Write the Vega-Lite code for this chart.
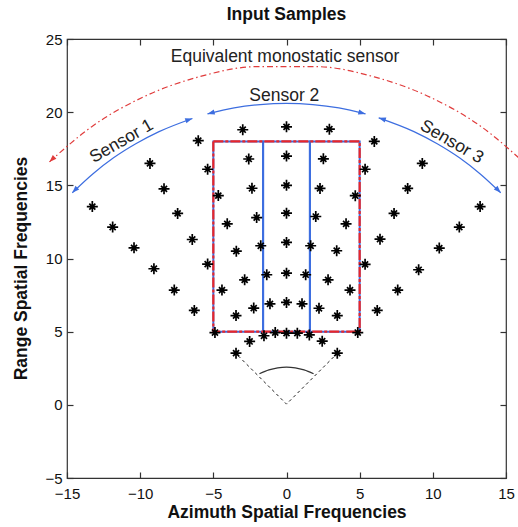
{
  "$schema": "https://vega.github.io/schema/vega-lite/v6.json",
  "width": 439,
  "height": 439,
  "autosize": "none",
  "padding": {"left": 67, "top": 39, "right": 12, "bottom": 49},
  "background": "white",
  "title": {"text": "Input Samples", "font": "Liberation Sans", "fontSize": 17.5, "fontWeight": "bold", "color": "#111", "baseline": "alphabetic", "offset": -5, "frame": "group", "anchor": "middle"},
  "config": {
    "view": {"stroke": "#333", "strokeWidth": 1.2},
    "axis": {"domain": false, "grid": false, "tickColor": "#333", "tickSize": -6, "tickWidth": 1.2, "labelFont": "Liberation Sans", "labelFontSize": 15, "labelColor": "#111", "titleFont": "Liberation Sans", "titleFontSize": 17.5, "titleFontWeight": "bold", "titleColor": "#111", "labelFlush": false, "labelOverlap": false, "labelBound": false}
  },
  "datasets": {
    "pts": [
      {"x": 0, "y": 4.9}, {"x": 0, "y": 7.0}, {"x": 0, "y": 9.0}, {"x": 0, "y": 11.1}, {"x": 0, "y": 13.1}, {"x": 0, "y": 15.0}, {"x": 0, "y": 17.0}, {"x": 0, "y": 19.0},
      {"x": 0.74, "y": 4.9}, {"x": 1.06, "y": 6.9}, {"x": 1.31, "y": 8.89}, {"x": 1.65, "y": 10.87}, {"x": 2.0, "y": 12.87}, {"x": 2.29, "y": 14.79}, {"x": 2.52, "y": 16.81}, {"x": 2.93, "y": 18.84},
      {"x": -0.77, "y": 4.94}, {"x": -1.13, "y": 6.9}, {"x": -1.35, "y": 8.89}, {"x": -1.76, "y": 10.87}, {"x": -2.04, "y": 12.8}, {"x": -2.36, "y": 14.8}, {"x": -2.58, "y": 16.8}, {"x": -2.99, "y": 18.8},
      {"x": 1.56, "y": 4.78}, {"x": 2.22, "y": 6.6}, {"x": 2.84, "y": 8.54}, {"x": 3.43, "y": 10.53}, {"x": 4.07, "y": 12.37}, {"x": 4.7, "y": 14.29}, {"x": 5.37, "y": 16.1}, {"x": 6.0, "y": 18.0},
      {"x": -1.54, "y": 4.72}, {"x": -2.24, "y": 6.61}, {"x": -2.86, "y": 8.54}, {"x": -3.43, "y": 10.5}, {"x": -4.05, "y": 12.37}, {"x": -4.66, "y": 14.3}, {"x": -5.39, "y": 16.1}, {"x": -6.03, "y": 18.05},
      {"x": 2.44, "y": 4.35}, {"x": 3.47, "y": 6.1}, {"x": 4.34, "y": 7.84}, {"x": 5.37, "y": 9.6}, {"x": 6.39, "y": 11.32}, {"x": 7.35, "y": 13.08}, {"x": 8.28, "y": 14.79}, {"x": 9.28, "y": 16.5},
      {"x": -2.52, "y": 4.33}, {"x": -3.45, "y": 6.1}, {"x": -4.41, "y": 7.84}, {"x": -5.39, "y": 9.62}, {"x": -6.44, "y": 11.3}, {"x": -7.44, "y": 13.08}, {"x": -8.37, "y": 14.76}, {"x": -9.33, "y": 16.5},
      {"x": 3.47, "y": 3.53}, {"x": 4.87, "y": 4.94}, {"x": 6.2, "y": 6.45}, {"x": 7.6, "y": 7.84}, {"x": 9.03, "y": 9.23}, {"x": 10.44, "y": 10.71}, {"x": 11.81, "y": 12.15}, {"x": 13.23, "y": 13.55},
      {"x": -3.45, "y": 3.53}, {"x": -4.89, "y": 4.94}, {"x": -6.3, "y": 6.45}, {"x": -7.67, "y": 7.84}, {"x": -9.06, "y": 9.3}, {"x": -10.42, "y": 10.73}, {"x": -11.88, "y": 12.15}, {"x": -13.27, "y": 13.55}
    ],
    "arcs": [
      {"arc": "s1", "x": -14.64, "y": 14.49}, {"arc": "s1", "x": -13.24, "y": 15.78}, {"arc": "s1", "x": -11.82, "y": 16.88}, {"arc": "s1", "x": -10.3, "y": 17.84}, {"arc": "s1", "x": -8.71, "y": 18.67}, {"arc": "s1", "x": -6.43, "y": 19.57},
      {"arc": "s2", "x": -5.4, "y": 19.88}, {"arc": "s2", "x": -3.58, "y": 20.29}, {"arc": "s2", "x": -1.8, "y": 20.52}, {"arc": "s2", "x": 0, "y": 20.6}, {"arc": "s2", "x": 1.8, "y": 20.52}, {"arc": "s2", "x": 3.58, "y": 20.29}, {"arc": "s2", "x": 5.4, "y": 19.88},
      {"arc": "s3", "x": 6.3, "y": 19.61}, {"arc": "s3", "x": 8.71, "y": 18.67}, {"arc": "s3", "x": 10.3, "y": 17.84}, {"arc": "s3", "x": 11.82, "y": 16.88}, {"arc": "s3", "x": 13.24, "y": 15.78}, {"arc": "s3", "x": 14.64, "y": 14.49}
    ],
    "mono": [
      {"x": -16.2, "y": 16.6}, {"x": -13.31, "y": 19.01}, {"x": -9.8, "y": 21.03}, {"x": -6.0, "y": 22.41}, {"x": -2.02, "y": 23.11}, {"x": 2.02, "y": 23.11}, {"x": 6.0, "y": 22.41}, {"x": 9.8, "y": 21.03}, {"x": 13.31, "y": 19.01}, {"x": 16.4, "y": 16.4}
    ],
    "heads": [
      {"kind": "sensor", "x": -14.64, "y": 14.49, "heading": -135.3},
      {"kind": "sensor", "x": -6.43, "y": 19.57, "heading": 71.8},
      {"kind": "sensor", "x": -5.4, "y": 19.88, "heading": -105.2},
      {"kind": "sensor", "x": 5.4, "y": 19.88, "heading": 105.2},
      {"kind": "sensor", "x": 6.3, "y": 19.61, "heading": -72.2},
      {"kind": "sensor", "x": 14.64, "y": 14.49, "heading": 135.3},
      {"kind": "monostatic", "x": -16.2, "y": 16.6, "heading": -134.3}
    ],
    "bowl": [
      {"x": -1.85, "y": 2.12}, {"x": -1.2, "y": 2.39}, {"x": -0.6, "y": 2.53}, {"x": 0, "y": 2.58}, {"x": 0.6, "y": 2.53}, {"x": 1.2, "y": 2.39}, {"x": 1.85, "y": 2.12}
    ],
    "cone": [
      {"x": -3.3, "y": 3.35}, {"x": 0, "y": 0.05}, {"x": 3.3, "y": 3.35}
    ],
    "cells": [
      {"x": -5, "x2": -1.6, "y": 5, "y2": 18},
      {"x": -1.6, "x2": 1.6, "y": 5, "y2": 18},
      {"x": 1.6, "x2": 5, "y": 5, "y2": 18}
    ],
    "frame": [
      {"x": -5, "x2": 5, "y": 5, "y2": 18}
    ]
  },
  "encoding": {
    "x": {"field": "x", "type": "quantitative", "scale": {"domain": [-15, 15], "nice": false, "zero": false}, "axis": null},
    "y": {"field": "y", "type": "quantitative", "scale": {"domain": [-5, 25], "nice": false, "zero": false}, "axis": null}
  },
  "layer": [
    {
      "data": {"name": "cells"},
      "mark": {"type": "rect", "fill": "transparent", "stroke": "#3d6ee0", "strokeWidth": 2},
      "encoding": {"x2": {"field": "x2"}, "y2": {"field": "y2"}}
    },
    {
      "data": {"name": "frame"},
      "mark": {"type": "rect", "fill": "transparent", "stroke": "#e8262a", "strokeWidth": 2.2, "strokeDash": [10, 2, 3, 2]},
      "encoding": {"x2": {"field": "x2"}, "y2": {"field": "y2"}}
    },
    {
      "data": {"name": "mono"},
      "mark": {"type": "line", "interpolate": "monotone", "stroke": "#e03c3c", "strokeWidth": 1.2, "strokeDash": [6, 3, 1.5, 3]},
      "encoding": {}
    },
    {
      "data": {"name": "arcs"},
      "mark": {"type": "line", "interpolate": "monotone", "stroke": "#3d6ee0", "strokeWidth": 1.2},
      "encoding": {"detail": {"field": "arc"}}
    },
    {
      "data": {"name": "heads"},
      "mark": {"type": "point", "shape": "M0,0L0.65,1.8L-0.65,1.8Z", "filled": true, "size": 64, "opacity": 1, "strokeWidth": 0},
      "encoding": {
        "angle": {"field": "heading", "type": "quantitative", "scale": null},
        "color": {"field": "kind", "type": "nominal", "scale": {"domain": ["sensor", "monostatic"], "range": ["#3d6ee0", "#e03c3c"]}, "legend": null}
      }
    },
    {
      "data": {"name": "bowl"},
      "mark": {"type": "line", "interpolate": "monotone", "stroke": "#333", "strokeWidth": 1.2},
      "encoding": {}
    },
    {
      "data": {"name": "cone"},
      "mark": {"type": "line", "stroke": "#222", "strokeWidth": 1, "strokeDash": [3, 3]},
      "encoding": {
        "x": {"field": "x", "type": "quantitative", "scale": {"domain": [-15, 15], "nice": false, "zero": false}, "axis": {"orient": "top", "labels": false, "title": null, "values": [-15, -10, -5, 0, 5, 10, 15]}},
        "y": {"field": "y", "type": "quantitative", "scale": {"domain": [-5, 25], "nice": false, "zero": false}, "axis": {"orient": "right", "labels": false, "title": null, "values": [-5, 0, 5, 10, 15, 20, 25]}}
      }
    },
    {
      "data": {"values": [
        {"label": "Equivalent monostatic sensor", "x": -0.1, "y": 23.4},
        {"label": "Sensor 2", "x": -0.15, "y": 20.73}
      ]},
      "mark": {"type": "text", "font": "Liberation Sans", "fontSize": 17.5, "color": "#222", "align": "center", "baseline": "alphabetic"},
      "encoding": {"text": {"field": "label"}}
    },
    {
      "data": {"values": [{"label": "Sensor 1", "x": -11.27, "y": 18.0}]},
      "mark": {"type": "text", "font": "Liberation Sans", "fontSize": 17.5, "color": "#222", "align": "center", "baseline": "middle", "angle": -30},
      "encoding": {"text": {"field": "label"}}
    },
    {
      "data": {"values": [{"label": "Sensor 3", "x": 11.29, "y": 17.96}]},
      "mark": {"type": "text", "font": "Liberation Sans", "fontSize": 17.5, "color": "#222", "align": "center", "baseline": "middle", "angle": 30},
      "encoding": {"text": {"field": "label"}}
    },
    {
      "data": {"name": "pts"},
      "mark": {"type": "point", "shape": "M-1,0L1,0M0,-1L0,1M-0.55,-0.55L0.55,0.55M-0.55,0.55L0.55,-0.55", "filled": false, "stroke": "#000", "strokeWidth": 1.7, "size": 121, "opacity": 1},
      "encoding": {
        "x": {"field": "x", "type": "quantitative", "scale": {"domain": [-15, 15], "nice": false, "zero": false}, "axis": {"orient": "bottom", "title": "Azimuth Spatial Frequencies", "values": [-15, -10, -5, 0, 5, 10, 15], "labelPadding": 14, "titleY": 39, "titleBaseline": "alphabetic"}},
        "y": {"field": "y", "type": "quantitative", "scale": {"domain": [-5, 25], "nice": false, "zero": false}, "axis": {"orient": "left", "title": "Range Spatial Frequencies", "values": [-5, 0, 5, 10, 15, 20, 25], "labelPadding": 11, "titleX": -41, "titleY": 229, "titleBaseline": "alphabetic"}}
      }
    }
  ]
}
